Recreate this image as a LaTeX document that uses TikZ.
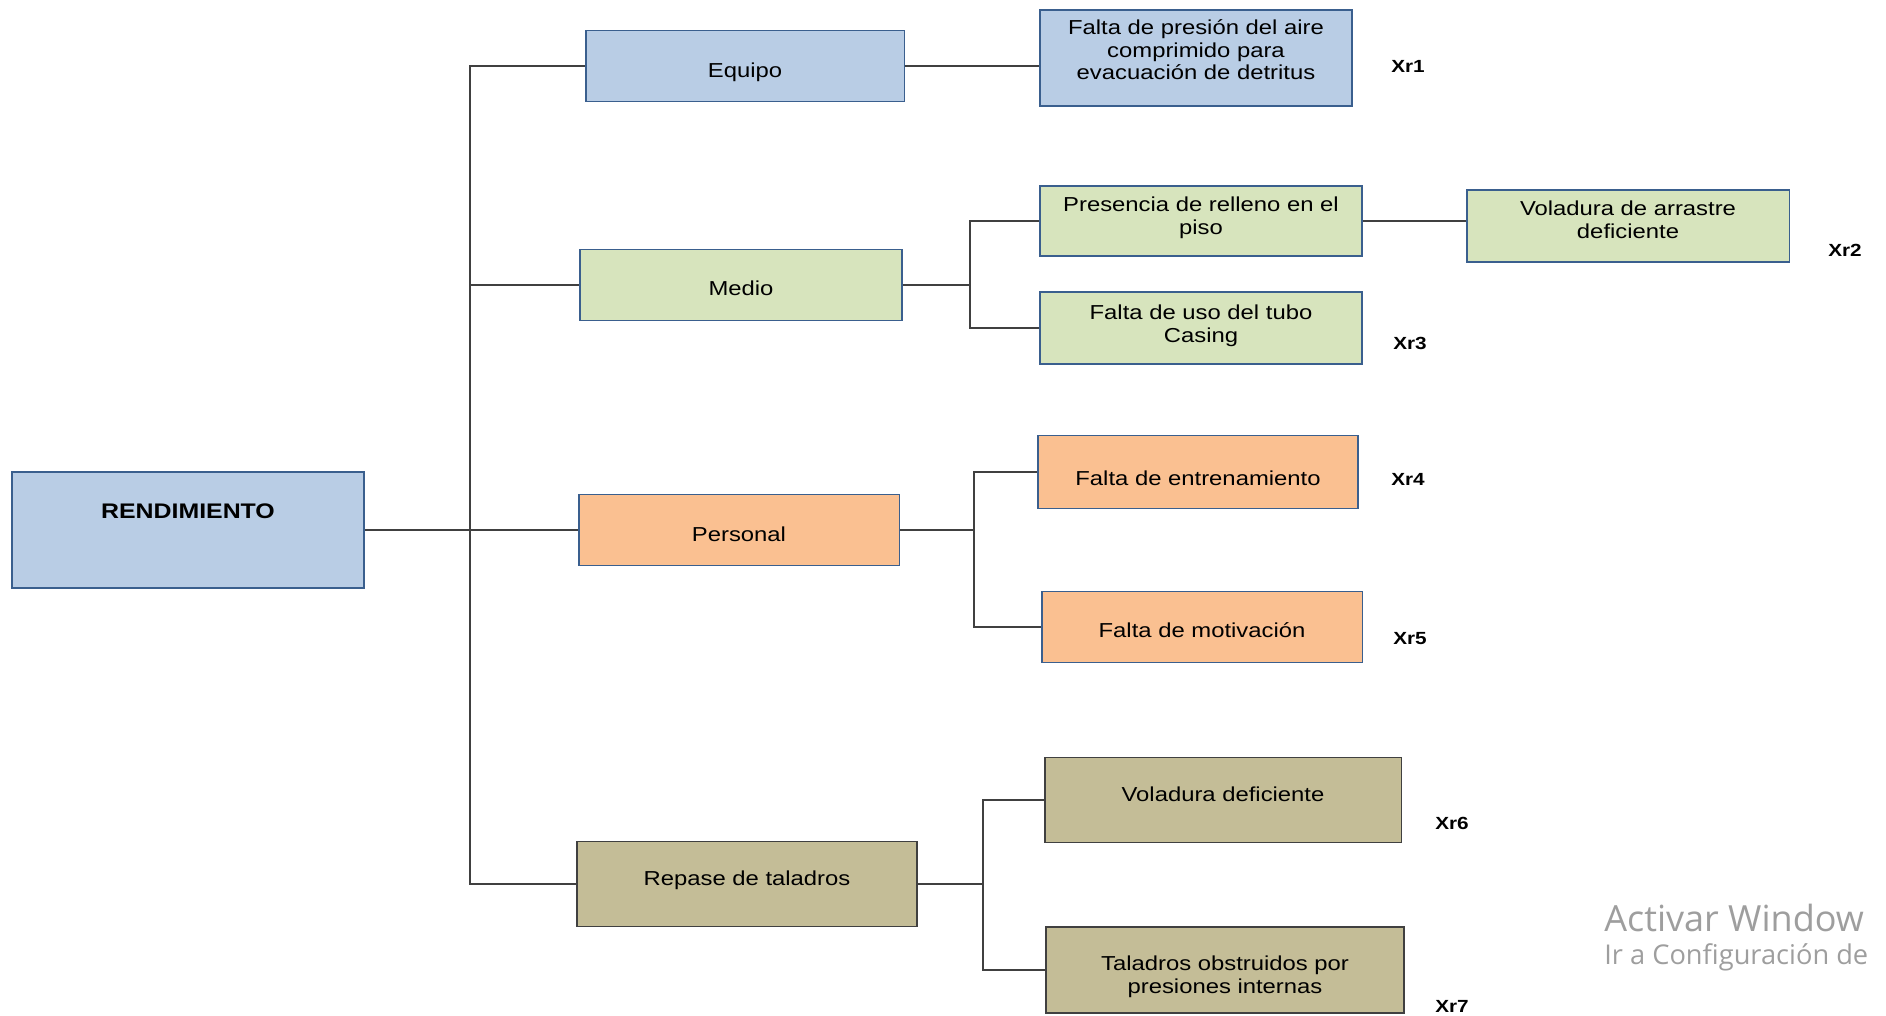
\documentclass[tikz,border=0pt]{standalone}
\usepackage{fontspec}
\setmainfont{Liberation Sans}[FakeStretch=1.18]
\newfontfamily\wmfont{Open Sans}
\usepackage{tikz}
\usetikzlibrary{calc}

\definecolor{azul}{HTML}{B9CDE5}
\definecolor{verde}{HTML}{D7E4BD}
\definecolor{naranja}{HTML}{FAC091}
\definecolor{caqui}{HTML}{C4BD97}
\definecolor{borde}{HTML}{3A5F8E}

\begin{document}
\begin{tikzpicture}[x=0.02cm, y=-0.02cm,
	every node/.style={font=\fontsize{11.5}{13}\selectfont, align=center, inner sep=0pt},
	caja/.style={draw=borde, line width=1.1pt},
	enlace/.style={draw=black!75, line width=0.9pt},
	etiq/.style={font=\fontsize{10}{12}\selectfont\bfseries}]
				\useasboundingbox (0,0) rectangle (1886,1016);
				
				\node[caja, fill=azul, minimum width=7.04cm, minimum height=2.32cm] (rend) at (188,530) {};
				\node[font=\fontsize{12}{14}\selectfont\bfseries] (rendtxt) at (188,511) {RENDIMIENTO};
				
				\node[caja, fill=azul, text height=15pt, minimum width=6.38cm, minimum height=1.42cm] (equipo) at (745,66) {Equipo};
				\node[caja, fill=verde, text height=12.3pt, minimum width=6.44cm, minimum height=1.42cm] (medio) at (741,285) {Medio};
				\node[caja, fill=naranja, text height=13.7pt, minimum width=6.42cm, minimum height=1.42cm] (personal) at (739,530) {Personal};
				\node[caja, fill=caqui, draw=black!75, text depth=6.4pt, minimum width=6.80cm, minimum height=1.70cm] (repase) at (747,884) {Repase de taladros};
				
				\node[caja, fill=azul, text depth=9.5pt, minimum width=6.24cm, minimum height=1.92cm] (presion) at (1196,58) {Falta de presión del aire\\comprimido para\\evacuación de detritus};
				\node[caja, fill=verde, text depth=6.5pt, minimum width=6.44cm, minimum height=1.40cm] (relleno) at (1201,221) {Presencia de relleno en el\\piso};
				\node[caja, fill=verde, text depth=7pt, minimum width=6.46cm, minimum height=1.44cm] (arrastre) at (1628,226) {Voladura de arrastre\\deficiente};
				\node[caja, fill=verde, text depth=5pt, minimum width=6.44cm, minimum height=1.44cm] (casing) at (1201,328) {Falta de uso del tubo\\Casing};
				\node[caja, fill=naranja, text height=15pt, minimum width=6.40cm, minimum height=1.46cm] (entren) at (1198,472) {Falta de entrenamiento};
				\node[caja, fill=naranja, text height=12.3pt, minimum width=6.42cm, minimum height=1.42cm] (motiv) at (1202,627) {Falta de motivación};
				\node[caja, fill=caqui, draw=black!75, text depth=7pt, minimum width=7.14cm, minimum height=1.70cm] (voldef) at (1223,800) {Voladura deficiente};
				\node[caja, fill=caqui, draw=black!75, text height=29.5pt, minimum width=7.16cm, minimum height=1.72cm] (obstr) at (1225,970) {Taladros obstruidos por\\presiones internas};
				
				\coordinate (bus) at (470,530);
				\coordinate (mbus) at (970,285);
				\coordinate (pbus) at (974,530);
				\coordinate (rbus) at (983,884);
				
				\draw[enlace] (rend.east) -- (personal.west);
				\draw[enlace] (equipo.west) -| (bus);
				\draw[enlace] (repase.west) -| (bus);
				\draw[enlace] (medio.west) -- (medio.west -| bus);
				
				\draw[enlace] (equipo.east) -- (equipo.east -| presion.west);
				
				\draw[enlace] (medio.east) -- (mbus);
				\draw[enlace] (relleno.west) -| (mbus);
				\draw[enlace] (casing.west) -| (mbus);
				\draw[enlace] (relleno.east) -- (relleno.east -| arrastre.west);
				
				\draw[enlace] (personal.east) -- (pbus);
				\draw[enlace] (entren.west) -| (pbus);
				\draw[enlace] (motiv.west) -| (pbus);
				
				\draw[enlace] (repase.east) -- (rbus);
				\draw[enlace] (voldef.west) -| (rbus);
				\draw[enlace] (obstr.west) -| (rbus);
				
				\node[etiq] (xr1) at (1408,66) {Xr1};
				\node[etiq] (xr2) at (1845,250) {Xr2};
				\node[etiq] (xr3) at (1410,343) {Xr3};
				\node[etiq] (xr4) at (1408,479) {Xr4};
				\node[etiq] (xr5) at (1410,639) {Xr5};
				\node[etiq] (xr6) at (1452,823) {Xr6};
				\node[etiq] (xr7) at (1452,1006) {Xr7};
				
				\node[anchor=west, text=black!38, font=\wmfont\fontsize{20.5}{24}\selectfont] (wm1) at (1604,918) {Activar Window};
				\node[anchor=west, text=black!38, font=\wmfont\fontsize{15.5}{18}\selectfont] (wm2) at (1604,957) {Ir a Configuración de};
			\end{tikzpicture}
\end{document}
